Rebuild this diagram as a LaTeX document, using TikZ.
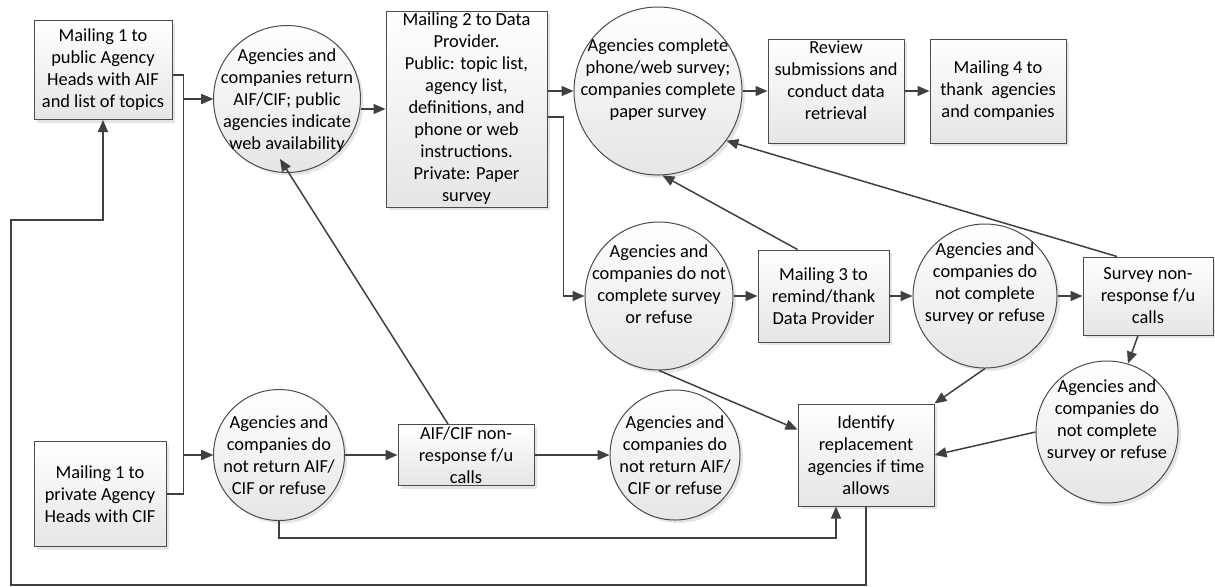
\documentclass[tikz,border=0pt]{standalone}
\usepackage{fontspec}
\setmainfont{Carlito}
\usetikzlibrary{arrows.meta,shadows,calc}
\begin{document}
\begin{tikzpicture}[x=0.5pt,y=-0.5pt,
  font=\fontsize{9.2}{11}\selectfont,
  shape3d/.style={draw=black!70, line width=0.5pt, top color=white, bottom color=black!10,
    drop shadow={shadow xshift=1.5pt, shadow yshift=-1.5pt, fill=black!20}},
  box/.style={shape3d, rectangle, inner sep=0pt, align=center},
  circ/.style={shape3d, circle, inner sep=0pt},
  txt/.style={align=center, inner sep=0pt},
  conn/.style={draw=black!75, line width=0.75pt, -{Triangle[length=6pt,width=5pt]}},
]
\useasboundingbox (0,0) rectangle (1215,586);

\node[box, minimum width=69pt, minimum height=49.5pt] (A) at (103,70) {Mailing 1 to\\public Agency\\Heads with AIF\\and list of topics};
\node[circ, minimum size=73.5pt] (B) at (287,99) {};
\node[txt] (Bt) at (287,101) {Agencies and\\companies return\\AIF/CIF; public\\agencies indicate\\web availability};
\node[box, minimum width=80.5pt, minimum height=98pt] (C) at (466.5,109) {Mailing 2 to Data\\Provider.\\Public: topic list,\\agency list,\\definitions, and\\phone or web\\instructions.\\Private: Paper\\survey};
\node[circ, minimum size=84pt] (F) at (658,91) {};
\node[txt] (Ft) at (658,80) {Agencies complete\\phone/web survey;\\companies complete\\paper survey};
\node[box, minimum width=68pt, minimum height=52pt] (D) at (836,91) {};
\node[txt] (Dt) at (836,80) {Review\\submissions and\\conduct data\\retrieval};
\node[box, minimum width=68pt, minimum height=52pt] (E) at (998,91) {Mailing 4 to\\thank~~agencies\\and companies};
\node[circ, minimum size=74pt] (G) at (659,296) {};
\node[txt] (Gt) at (659,284) {Agencies and\\companies do not\\complete survey\\or refuse};
\node[box, minimum width=65.5pt, minimum height=46pt] (H) at (823.5,296) {Mailing 3 to\\remind/thank\\Data Provider};
\node[circ, minimum size=72pt] (I) at (985,296) {};
\node[txt] (It) at (985,284) {Agencies and\\companies do\\not complete\\survey or refuse};
\node[box, minimum width=65pt, minimum height=39pt] (J) at (1148,296) {Survey non-\\response f/u\\calls};
\node[circ, minimum size=71pt] (K) at (1107,432) {};
\node[txt] (Kt) at (1107,421) {Agencies and\\companies do\\not complete\\survey or refuse};
\node[box, minimum width=68pt, minimum height=51pt] (L) at (866,455) {Identify\\replacement\\agencies if time\\allows};
\node[circ, minimum size=65.5pt] (M) at (279,455) {};
\node[txt] (Mt) at (279,455) {Agencies and\\companies do\\not return AIF/\\CIF or refuse};
\node[box, minimum width=66pt, minimum height=52.5pt] (N) at (100,494) {Mailing 1 to\\private Agency\\Heads with CIF};
\node[box, minimum width=68pt, minimum height=30.5pt] (O) at (466,455) {AIF/CIF non-\\response f/u\\calls};
\node[circ, minimum size=65pt] (P) at (675,455) {};
\node[txt] (Pt) at (675,455) {Agencies and\\companies do\\not return AIF/\\CIF or refuse};

\coordinate (Bin) at (280,159);
\coordinate (c1) at (11,585);

\draw[conn] ($(A.east)+(0,5)$) -- ++(11,0) |- (B.west);
\draw[conn] ($(A.east)+(0,5)$) -- ++(11,0) |- (M.west);
\draw[conn] (N.east) -- ++(17,0) |- (B.west);
\draw[conn] (N.east) -- ++(17,0) |- (M.west);
\draw[conn] (B.east |- C.west) -- (C.west);
\draw[conn] (C.east |- F.west) -- (F.west);
\draw[conn] ($(C.east)+(0,8)$) -- ++(16,0) |- (G.west);
\draw[conn] (F.east) -- (D.west);
\draw[conn] (D.east) -- (E.west);
\draw[conn] (G.east) -- (H.west);
\draw[conn] (H.east) -- (I.west);
\draw[conn] (I.east) -- (J.west);
\draw[conn] ($(H.north)+(-26,0)$) -- (F.-87);
\draw[conn] ($(J.north)+(-31,0)$) -- (F.-36);
\draw[conn] ($(J.south)+(-10,0)$) -- (K.73);
\draw[conn] (K.west) -- (L.east);
\draw[conn] (I.south) -- (L.north east);
\draw[conn] (G.south) -- ($(L.north west)+(0,26)$);
\draw[conn] (M.east) -- (O.west);
\draw[conn] (O.east) -- (P.west);
\draw[conn] ($(O.north)+(-18,0)$) -- (Bin);
\draw[conn] (M.south) -- ++(0,17) -| ($(L.south)+(-30,0)$);
\draw[conn] (L.south) |- (c1) |- ($(A.south)+(0,100)$) -- (A.south);
\end{tikzpicture}
\end{document}
